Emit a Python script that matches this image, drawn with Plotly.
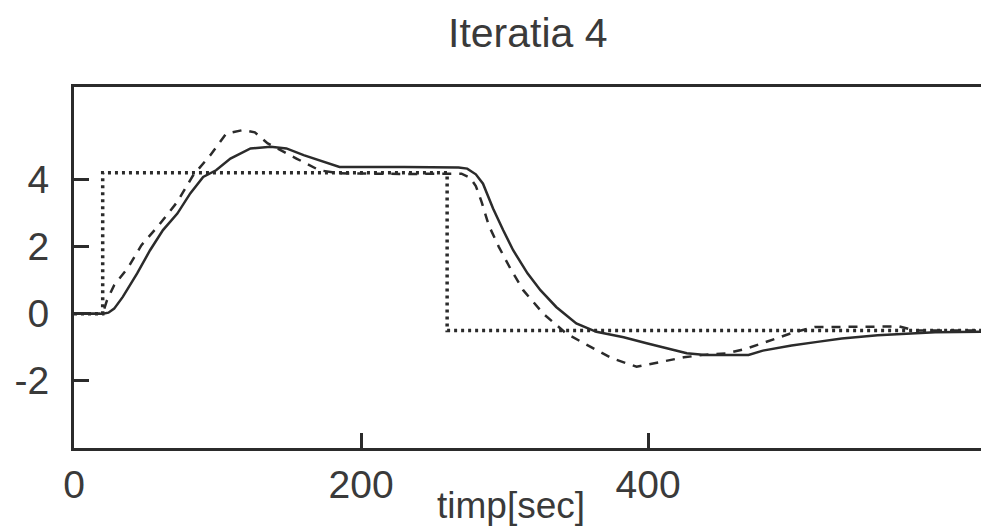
import plotly.graph_objects as go

# ---- data ----
t_ref = [0, 20, 20, 260, 260, 632]
y_ref = [0, 0, 4.2, 4.2, -0.5, -0.5]

t_out = [0, 20, 24, 28, 34, 44, 53, 62, 72, 81, 90, 99, 109, 123, 137, 148, 160, 174,
         185, 230, 268, 274, 280, 285, 292, 299, 306, 316, 325, 336, 350, 364, 383, 399,
         413, 427, 440, 470, 480, 500, 518, 535, 560, 600, 632]
y_out = [0, 0, 0.03, 0.15, 0.5, 1.2, 1.89, 2.49, 2.98, 3.58, 4.07, 4.27, 4.62, 4.92, 4.97,
         4.92, 4.72, 4.52, 4.37, 4.37, 4.35, 4.32, 4.15, 3.87, 3.13, 2.49, 1.89, 1.2, 0.7,
         0.2, -0.29, -0.54, -0.7, -0.88, -1.03, -1.18, -1.23, -1.23, -1.1, -0.95, -0.84,
         -0.74, -0.64, -0.55, -0.54]

t_mod = [0, 20, 23, 28, 38, 47, 59, 72, 83, 95, 106, 118, 126, 135, 155, 171, 185, 230,
         270, 276, 280, 284, 289, 296, 304, 313, 327, 343, 360, 375, 392, 408, 425, 440,
         455, 468, 485, 502, 516, 575, 586, 632]
y_mod = [0, 0, 0.4, 0.85, 1.39, 2.04, 2.63, 3.33, 4.12, 4.72, 5.36, 5.47, 5.4, 5.07, 4.62,
         4.27, 4.18, 4.16, 4.17, 4.05, 3.8, 3.33, 2.63, 1.99, 1.35, 0.7, 0.0, -0.59, -0.99,
         -1.33, -1.58, -1.45, -1.3, -1.22, -1.18, -1.05, -0.8, -0.55, -0.4, -0.38, -0.5, -0.5]

x_ticks = [0, 200, 400]
y_ticks = [-2, 0, 2, 4]
title_text = "Iteratia 4"
xlabel_text = "timp[sec]"

INK = "#2b2b2b"
TXT = "#3a3a3a"
FONT = "Liberation Sans, Arial, sans-serif"

fig = go.Figure()
fig.add_trace(go.Scatter(x=t_ref, y=y_ref, mode="lines",
                         line=dict(color=INK, width=3.5, dash="3px,4px")))
fig.add_trace(go.Scatter(x=t_mod, y=y_mod, mode="lines",
                         line=dict(color=INK, width=2.5, dash="9px,8px")))
fig.add_trace(go.Scatter(x=t_out, y=y_out, mode="lines",
                         line=dict(color=INK, width=2.5)))

fig.update_layout(
    width=981, height=529,
    margin=dict(l=74, r=0, t=87, b=81, autoexpand=False),
    paper_bgcolor="white", plot_bgcolor="white",
    showlegend=False,
    font=dict(family=FONT, color=TXT),
    xaxis=dict(range=[0, 632], tickvals=x_ticks, ticktext=[str(v) for v in x_ticks],
               automargin=False,
               showgrid=False, zeroline=False, showline=True, mirror=True,
               linecolor=INK, linewidth=3, ticks="inside", ticklen=15, tickwidth=2.5,
               tickcolor=INK, tickfont=dict(size=39, family=FONT, color=TXT),
               ticklabelstandoff=0),
    yaxis=dict(range=[-4, 6.75], tickvals=y_ticks, ticktext=[str(v) for v in y_ticks],
               automargin=False,
               showgrid=False, zeroline=False, showline=True, mirror=False,
               linecolor=INK, linewidth=3, ticks="inside", ticklen=15, tickwidth=2.5,
               tickcolor=INK, tickfont=dict(size=39, family=FONT, color=TXT),
               ticklabelstandoff=14),
    annotations=[
        dict(text=title_text, xref="paper", yref="paper", x=0.5, y=1 + (87 - 33) / 361,
             xanchor="center", yanchor="middle", showarrow=False,
             font=dict(size=41, family=FONT, color=TXT)),
        dict(text=xlabel_text, xref="x", yref="paper", x=304.5, y=-(505 - 448) / 361,
             xanchor="center", yanchor="middle", showarrow=False,
             font=dict(size=37, family=FONT, color=TXT)),
    ],
)

fig.write_html("out.html",
               config={"displayModeBar": False},
               post_script="document.body.style.margin='0px';document.body.style.overflow='hidden';")
